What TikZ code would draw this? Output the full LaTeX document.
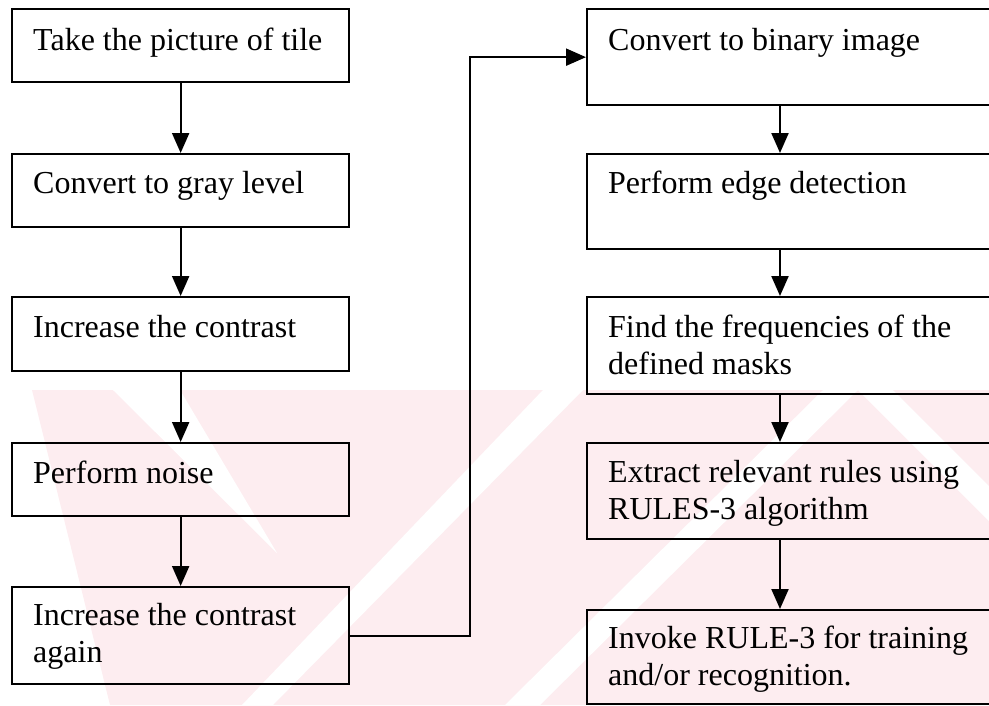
\documentclass[tikz,border=0pt]{standalone}
\usepackage{fontspec}
\setmainfont{Liberation Serif}
\usetikzlibrary{arrows.meta}
\definecolor{wmpink}{RGB}{253,237,240}
% step text: lines stacked, reference point on the first baseline
\newcommand{\steptext}[1]{\begin{tabular}[t]{@{}l@{}}#1\end{tabular}}
\begin{document}
\begin{tikzpicture}[x=1pt,y=-1pt,
  stepbox/.style={draw, line width=2.3pt, rectangle, inner sep=0pt, anchor=north west},
  lbl/.style={anchor=base west, inner sep=0pt, font=\fontsize{32}{37}\selectfont},
  arr/.style={line width=2.2pt, -{Triangle[length=20pt,width=17pt]}},
]
\useasboundingbox (0,0) rectangle (989,705);
\clip (0,0) rectangle (989,705);

% faint background emblem
\fill[wmpink] (32,390) -- (989,390) -- (989,705) -- (110,705) -- cycle;
\fill[white] (113,390) -- (180,390) -- (277,553) -- cycle;
\fill[white] (543,390) -- (583,390) -- (273,705) -- (242,705) -- cycle;
\fill[white] (505,705) -- (540,705) -- (858,390) -- (823,390) -- cycle;
\fill[white] (858,390) -- (893,390) -- (989,486) -- (989,521) -- cycle;

% process steps, left column
\node[stepbox, minimum width=337pt, minimum height=73pt] (l1) at (11,8) {};
\node[stepbox, minimum width=337pt, minimum height=73pt] (l2) at (11,153) {};
\node[stepbox, minimum width=337pt, minimum height=74pt] (l3) at (11,296) {};
\node[stepbox, minimum width=337pt, minimum height=73pt] (l4) at (11,442) {};
\node[stepbox, minimum width=337pt, minimum height=97pt] (l5) at (11,586) {};

% process steps, right column
\node[stepbox, minimum width=430pt, minimum height=96pt] (r1) at (586,8) {};
\node[stepbox, minimum width=430pt, minimum height=95pt] (r2) at (586,153) {};
\node[stepbox, minimum width=430pt, minimum height=97pt] (r3) at (586,296) {};
\node[stepbox, minimum width=430pt, minimum height=96pt] (r4) at (586,442) {};
\node[stepbox, minimum width=430pt, minimum height=94pt] (r5) at (586,609) {};

% step texts
\node[lbl] (t1) at ([shift={(22,42)}]l1.north west) {Take the picture of tile};
\node[lbl] (t2) at ([shift={(22,40)}]l2.north west) {Convert to gray level};
\node[lbl] (t3) at ([shift={(22,41)}]l3.north west) {Increase the contrast};
\node[lbl] (t4) at ([shift={(22,41)}]l4.north west) {Perform noise};
\node[lbl] (t5) at ([shift={(22,39)}]l5.north west) {\steptext{Increase the contrast\\again}};
\node[lbl] (u1) at ([shift={(22,42)}]r1.north west) {Convert to binary image};
\node[lbl] (u2) at ([shift={(22,40)}]r2.north west) {Perform edge detection};
\node[lbl] (u3) at ([shift={(22,41)}]r3.north west) {\steptext{Find the frequencies of the\\defined masks}};
\node[lbl] (u4) at ([shift={(22,40)}]r4.north west) {\steptext{Extract relevant rules using\\RULES-3 algorithm}};
\node[lbl] (u5) at ([shift={(22,39)}]r5.north west) {\steptext{Invoke RULE-3 for training\\and/or recognition.}};

% connectors
\coordinate (rx) at (780,0);
\coordinate (jx) at (470,0);
\draw[arr] (l1.south) -- (l2.north);
\draw[arr] (l2.south) -- (l3.north);
\draw[arr] (l3.south) -- (l4.north);
\draw[arr] (l4.south) -- (l5.north);
\draw[arr] (l5.east) -- (l5.east -| jx) |- (r1.west);
\draw[arr] (r1.south -| rx) -- (r2.north -| rx);
\draw[arr] (r2.south -| rx) -- (r3.north -| rx);
\draw[arr] (r3.south -| rx) -- (r4.north -| rx);
\draw[arr] (r4.south -| rx) -- (r5.north -| rx);
\end{tikzpicture}
\end{document}
